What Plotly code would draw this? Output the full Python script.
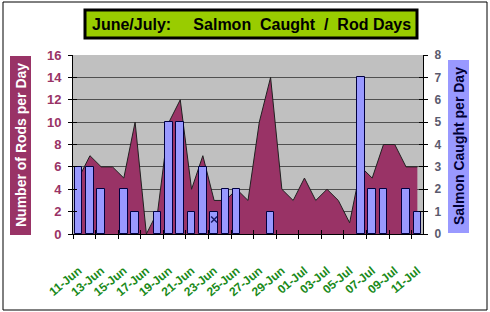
import plotly.graph_objects as go

# ---- data ----
dates = ['11-Jun', '12-Jun', '13-Jun', '14-Jun', '15-Jun', '16-Jun', '17-Jun', '18-Jun',
         '19-Jun', '20-Jun', '21-Jun', '22-Jun', '23-Jun', '24-Jun', '25-Jun', '26-Jun',
         '27-Jun', '28-Jun', '29-Jun', '30-Jun', '01-Jul', '02-Jul', '03-Jul', '04-Jul',
         '05-Jul', '06-Jul', '07-Jul', '08-Jul', '09-Jul', '10-Jul', '11-Jul']
rods_per_day = [5, 7, 6, 6, 5, 10, 0, 2, 10, 12, 4, 7, 3, 3, 4, 3,
                10, 14, 4, 3, 5, 3, 4, 3, 1, 6, 5, 8, 8, 6, 6]
salmon_per_day = [3, 3, 2, 0, 2, 1, 0, 1, 5, 5, 1, 3, 1, 2, 2, 0,
                  0, 1, 0, 0, 0, 0, 0, 0, 0, 7, 2, 2, 0, 2, 1]
marker_days = ['23-Jun']
marker_values = [0.65]
left_ticks = [0, 2, 4, 6, 8, 10, 12, 14, 16]
right_ticks = [0, 1, 2, 3, 4, 5, 6, 7, 8]

idx = list(range(len(dates)))
label_idx = idx[::2]
label_txt = dates[::2]
boundaries = [i - 0.5 for i in idx[::2]]
marker_idx = [dates.index(d) for d in marker_days]

FONT = 'Arial, Liberation Sans, sans-serif'
MAROON = '#993366'
LAV = '#9999FF'

fig = go.Figure()
fig.add_trace(go.Scatter(x=idx, y=rods_per_day, mode='lines', fill='tozeroy',
                         fillcolor=MAROON, line=dict(color='#202020', width=1),
                         xaxis='x', yaxis='y', showlegend=False))
fig.add_trace(go.Bar(x=idx, y=[v if v else None for v in salmon_per_day], width=0.67,
                     marker=dict(color=LAV, line=dict(color='#000040', width=1)),
                     xaxis='x', yaxis='y2', showlegend=False))
fig.add_trace(go.Scatter(x=marker_idx, y=marker_values, mode='markers',
                         marker=dict(symbol='x-thin-open', size=6, color='#1a1a66',
                                     line=dict(color='#1a1a66', width=1.5)),
                         xaxis='x', yaxis='y2', showlegend=False))
# dummy traces for the inner halves of the crossing tick marks
fig.add_trace(go.Scatter(x=[None], y=[None], xaxis='x2', yaxis='y3', showlegend=False))
fig.add_trace(go.Scatter(x=[None], y=[None], xaxis='x2', yaxis='y4', showlegend=False))

xr = [-0.5, len(dates) - 0.5]
fig.update_layout(
    width=490, height=312,
    margin=dict(l=73, r=67, t=55, b=78),
    paper_bgcolor='white', plot_bgcolor='#C0C0C0',
    font=dict(family=FONT),
    bargap=0,
    xaxis=dict(range=xr, tickmode='array', tickvals=label_idx, ticktext=label_txt,
               ticks='', tickangle=-40, ticklabelstandoff=24,
               tickfont=dict(family=FONT, size=12, color='#1a8a1a', weight='bold'),
               showline=True, linecolor='black', linewidth=1,
               showgrid=False, zeroline=False,
               minor=dict(tickmode='array', tickvals=boundaries, ticks='outside',
                          ticklen=4, tickcolor='black', tickwidth=1, showgrid=False)),
    xaxis2=dict(range=xr, overlaying='x', anchor='y3', tickmode='array', tickvals=boundaries,
                ticks='inside', ticklen=4, tickcolor='black', showticklabels=False,
                showline=False, showgrid=False, zeroline=False),
    yaxis=dict(range=[0, 16], tickmode='array', tickvals=left_ticks, ticks='outside',
               ticklen=4, tickcolor='black', ticklabelstandoff=4,
               tickfont=dict(family=FONT, size=13, color=MAROON, weight='bold'),
               showline=True, linecolor='black', linewidth=1,
               showgrid=True, gridcolor='#505050', gridwidth=1, zeroline=False),
    yaxis2=dict(range=[0, 8], overlaying='y', side='right', tickmode='array',
                tickvals=right_ticks, ticks='outside', ticklen=4, tickcolor='black',
                ticklabelstandoff=4,
                tickfont=dict(family=FONT, size=12, color='#5a5a6e', weight='bold'),
                showline=True, linecolor='black', linewidth=1,
                showgrid=False, zeroline=False),
    yaxis3=dict(range=[0, 16], overlaying='y', side='left', anchor='x2', tickmode='array',
                tickvals=left_ticks, ticks='inside', ticklen=4, tickcolor='black',
                showticklabels=False, showgrid=False, zeroline=False, showline=False),
    yaxis4=dict(range=[0, 8], overlaying='y', side='right', anchor='x2', tickmode='array',
                tickvals=right_ticks, ticks='inside', ticklen=4, tickcolor='black',
                showticklabels=False, showgrid=False, zeroline=False, showline=False),
)

def px2x(px):
    return (px - 73) / 350.0

def py2y(py):
    return (234 - py) / 179.0

shapes = [
    # outer chart border
    dict(type='rect', xref='paper', yref='paper', x0=px2x(3), x1=px2x(487),
         y0=py2y(310), y1=py2y(2), line=dict(color='black', width=1), fillcolor='rgba(0,0,0,0)'),
    # title box
    dict(type='rect', xref='paper', yref='paper', x0=px2x(85), x1=px2x(417),
         y0=py2y(38), y1=py2y(10), line=dict(color='black', width=3), fillcolor='#99CC00'),
    # left axis title box
    dict(type='rect', xref='paper', yref='paper', x0=px2x(10), x1=px2x(31),
         y0=py2y(235), y1=py2y(56), line=dict(width=0), fillcolor=MAROON),
    # right axis title box
    dict(type='rect', xref='paper', yref='paper', x0=px2x(448), x1=px2x(469),
         y0=py2y(233), y1=py2y(60), line=dict(width=0), fillcolor=LAV),
]
fig.update_layout(shapes=shapes)

nb = '\u00a0'
title_text = 'June/July:' + nb * 5 + 'Salmon' + nb * 2 + 'Caught' + nb * 2 + '/' + nb * 2 + 'Rod Days'
fig.add_annotation(xref='paper', yref='paper', x=px2x(251.5), y=py2y(24.5), text=title_text,
                   showarrow=False, xanchor='center', yanchor='middle',
                   font=dict(family=FONT, size=16, color='black', weight='bold'))
fig.add_annotation(xref='paper', yref='paper', x=px2x(20.5), y=py2y(145.5),
                   text='Number of Rods per Day', textangle=-90, showarrow=False,
                   xanchor='center', yanchor='middle',
                   font=dict(family=FONT, size=14, color='white', weight='bold'))
fig.add_annotation(xref='paper', yref='paper', x=px2x(458.5), y=py2y(146.5),
                   text='Salmon Caught per Day', textangle=-90, showarrow=False,
                   xanchor='center', yanchor='middle',
                   font=dict(family=FONT, size=14, color='#000033', weight='bold'))

fig.write_html('out.html')
